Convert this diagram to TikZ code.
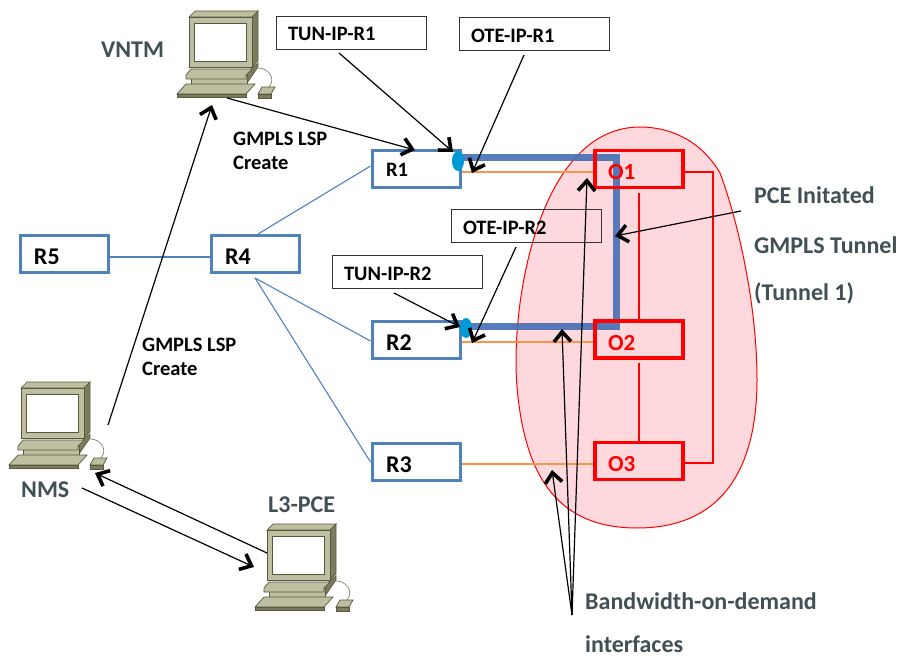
\documentclass[tikz,border=0pt]{standalone}
\usepackage{fontspec}
\setmainfont{Carlito}
\usetikzlibrary{arrows.meta,shapes.geometric}
\definecolor{routerblue}{RGB}{79,129,189}
\definecolor{tunnelblue}{RGB}{70,110,180}
\definecolor{portblue}{RGB}{0,153,214}
\definecolor{linkorange}{RGB}{247,150,70}
\definecolor{blobpink}{RGB}{253,217,222}
\definecolor{labelgrey}{RGB}{64,80,84}
\definecolor{pcface}{RGB}{190,190,160}
\definecolor{pcside}{RGB}{124,124,92}
\definecolor{pcline}{RGB}{88,88,64}
\tikzset{
	router/.style={draw=routerblue, line width=3pt, text width=60pt, inner xsep=14pt, minimum height=37pt, inner ysep=0pt, text height=21pt, text depth=0pt, font=\bfseries\fontsize{24}{24}\selectfont},
	optical/.style={draw=red, line width=3.2pt, text=red, text width=62pt, inner xsep=13pt, minimum height=37pt, inner ysep=0pt, text height=21pt, text depth=0pt, font=\bfseries\fontsize{23}{23}\selectfont},
	tagbox/.style={draw=black!80, line width=0.8pt, text width=126pt, inner xsep=12pt, minimum height=33pt, inner ysep=0pt, text height=17pt, text depth=0pt, font=\bfseries\fontsize{20.5}{20.5}\selectfont},
	caption/.style={anchor=base west, inner sep=0pt, text=labelgrey, font=\bfseries\fontsize{24}{24}\selectfont},
	plain/.style={anchor=base west, inner sep=0pt, font=\bfseries\fontsize{20.5}{20.5}\selectfont},
	pointer/.style={-{Straight Barb[length=10pt,width=17pt,line width=3.6pt]}, line width=1.2pt},
	link/.style={routerblue, line width=1.1pt},
	oplink/.style={linkorange, line width=1.1pt},
	redlink/.style={red, line width=1.1pt},
	port/.style={ellipse, fill=portblue, minimum width=12pt, minimum height=20pt, inner sep=0pt},
	pcpart/.style={draw=pcline, fill=pcface, line width=0.7pt},
	pc/.pic={
		\path[pcpart] (12,6) -- (18,0) -- (81,0) -- (75,6) -- cycle;
		\path[pcpart, fill=pcside] (75,6) -- (81,0) -- (81,50) -- (75,56) -- cycle;
		\path[pcpart] (12,6) rectangle (75,56);
		\path[draw=pcline, fill=white, line width=0.5pt] (17,12) rectangle (69,50);
		\path[pcpart, fill=pcside] (69,62) -- (81,52) -- (81,56) -- (70,72) -- cycle;
		\path[pcpart] (14,64) rectangle (70,73);
		\path[pcpart] (9,64) -- (14,58) -- (75,58) -- (69,64) -- (69,68) -- (9,68) -- cycle;
		\path[pcpart] (9,73) -- (78,73) -- (69,83) -- (0,83) -- cycle;
		\path[pcpart, fill=pcside] (0,83) rectangle (69,86);
		\draw[pcface!70!black, line width=0.7pt] (81,57) .. controls (92,57) and (99,68) .. (92,76);
		\path[pcpart] (85,76) -- (98,76) -- (94,83) -- (81,83) -- cycle;
		\path[pcpart, fill=pcside] (81,83) rectangle (94,87);
	}
}
\begin{document}
\begin{tikzpicture}[x=1pt, y=-1pt]
	\useasboundingbox (0,0) rectangle (900,658);

	\filldraw[draw=red, fill=blobpink, line width=1pt] (640,127) .. controls (672,127) and (702,142) .. (720,173) .. controls (736,215) and (757,300) .. (757,380) .. controls (757,450) and (735,528) .. (637,528) .. controls (560,528) and (525,480) .. (517,387) .. controls (510,300) and (540,127) .. (640,127) -- cycle;

	\node[router, font=\bfseries\fontsize{20.5}{20.5}\selectfont, text height=15pt] (R1) at (416,169.5) {R1};
	\node[router] (R2) at (416,339.5) {R2};
	\node[router] (R3) at (416,462) {R3};
	\node[router] (R4) at (255,254) {R4};
	\node[router] (R5) at (64,254) {R5};

	\coordinate (startA) at (458,158);
	\coordinate (bendA) at (616,158);
	\coordinate (bendB) at (616,326);
	\coordinate (startB) at (466,326);
	\draw[tunnelblue, line width=7pt, opacity=0.9] (startA) -- (bendA) -- (bendB) -- (startB);
	\node[port] (portR1) at (458,161) {};
	\node[port] (portR2) at (466,328) {};

	\node[optical] (O1) at (639,169) {O1};
	\node[optical] (O2) at (639,339.5) {O2};
	\node[optical] (O3) at (639,461) {O3};

	\coordinate (hubR4) at (255,278);
	\draw[link] ([xshift=3pt]R4.north) -- ([yshift=3.5pt]R1.west);
	\draw[link] ([yshift=-3pt]R5.east) -- ([yshift=-3pt]R4.west);
	\draw[link] (hubR4) -- ([yshift=-1.5pt]R2.west);
	\draw[link] (hubR4) -- (R3.west);

	\draw[oplink] ([yshift=-2.5pt]R1.east) -- ([yshift=-3pt]O1.west);
	\draw[oplink] ([yshift=-2.5pt]R2.east) -- ([yshift=-2.5pt]O2.west);
	\draw[oplink] ([yshift=-2pt]R3.east) -- ([yshift=-3pt]O3.west);

	\coordinate (redA) at (639,193);
	\coordinate (redB) at (639,363);
	\coordinate (redC) at (713,172);
	\coordinate (redD) at (713,463);
	\draw[redlink] (redA) -- (redA |- O2.north);
	\draw[redlink] (redB) -- (redB |- O3.north);
	\draw[redlink] (O1.east |- redC) -- (redC) -- (redD) -- (O3.east |- redD);

	\node[tagbox] (tunR1) at (351,32.5) {TUN-IP-R1};
	\node[tagbox] (oteR1) at (534,34) {OTE-IP-R1};
	\node[tagbox] (oteR2) at (526,225.5) {OTE-IP-R2};
	\node[tagbox] (tunR2) at (407,271.5) {TUN-IP-R2};

	\coordinate (fromTunR1) at (339,53);
	\coordinate (fromOteR1) at (524,55);
	\coordinate (fromOteR2) at (516,247);
	\coordinate (fromTunR2) at (394,293);
	\coordinate (tipTunR1) at (453,152);
	\coordinate (tipOteR1) at (472,173);
	\coordinate (tipOteR2) at (472,343);
	\coordinate (tipTunR2) at (460,327);
	\draw[pointer] (fromTunR1) -- (tipTunR1);
	\draw[pointer] (fromOteR1) -- (tipOteR1);
	\draw[pointer] (fromOteR2) -- (tipOteR2);
	\draw[pointer] (fromTunR2) -- (tipTunR2);

	\pic (pcVNTM) at (177,11) {pc};
	\pic (pcNMS) at (9,382) {pc};
	\pic (pcL3) at (255,524) {pc};

	\node[caption] (VNTM) at (101,58) {VNTM};
	\node[caption] (NMS) at (21,497) {NMS};
	\node[caption] (L3) at (268,512) {L3-PCE};

	\coordinate (outVNTM) at (227,98);
	\coordinate (tipR1) at (415,150);
	\coordinate (outNMS) at (108,425);
	\coordinate (tipVNTM) at (212,105);
	\coordinate (outL3) at (267,553);
	\coordinate (tipNMS) at (95,473);
	\coordinate (downNMS) at (82,488);
	\coordinate (tipL3) at (254,567);
	\draw[pointer] (outVNTM) -- (tipR1);
	\draw[pointer] (outNMS) -- (tipVNTM);
	\draw[pointer] (outL3) -- (tipNMS);
	\draw[pointer] (downNMS) -- (tipL3);

	\node[plain] (createA) at (233,146) {GMPLS LSP};
	\node[plain] (createB) at (233,170) {Create};
	\node[plain] (createC) at (142,351) {GMPLS LSP};
	\node[plain] (createD) at (142,375) {Create};

	\node[caption] (pceA) at (754,204) {PCE Initated};
	\node[caption] (pceB) at (754,253) {GMPLS Tunnel};
	\node[caption] (pceC) at (754,300) {(Tunnel 1)};
	\coordinate (fromPce) at (741,211);
	\coordinate (tipPce) at (615,236);
	\draw[pointer] (fromPce) -- (tipPce);

	\node[caption] (bwA) at (585,609) {Bandwidth-on-demand};
	\node[caption] (bwB) at (585,652) {interfaces};
	\coordinate (bwRoot) at (572,615);
	\coordinate (tipO1) at (587,178);
	\coordinate (tipO2) at (562,329);
	\coordinate (tipO3) at (552,470);
	\draw[pointer] (bwRoot) -- (tipO1);
	\draw[pointer] (bwRoot) -- (tipO2);
	\draw[pointer] (bwRoot) -- (tipO3);
\end{tikzpicture}
\end{document}
